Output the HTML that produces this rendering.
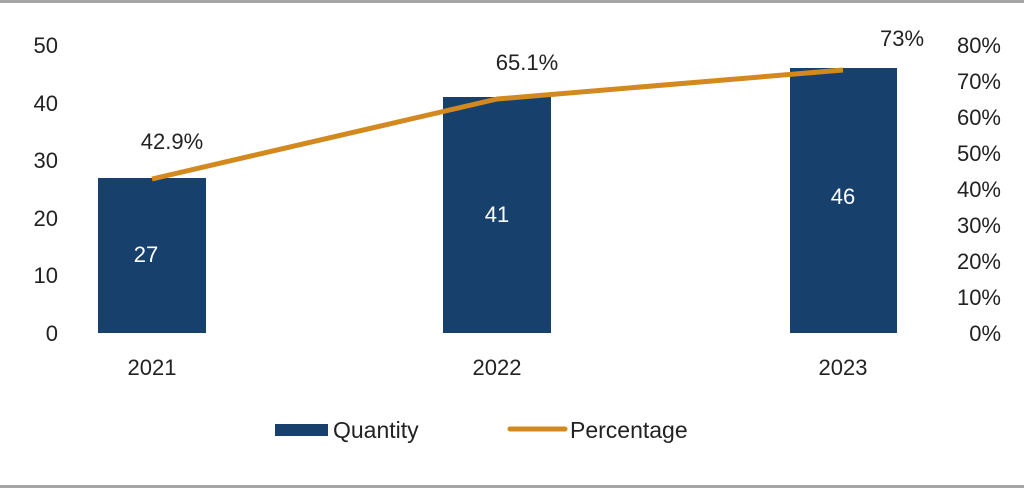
<!DOCTYPE html>
<html><head><style>
html,body{margin:0;padding:0;background:#fff;}
svg text{font-family:"Liberation Sans",sans-serif;fill:#222;}
</style></head><body>
<svg width="1024" height="488" xmlns="http://www.w3.org/2000/svg">
<rect x="0" y="0" width="1024" height="3" fill="#a6a6a6"/>
<rect x="0" y="485" width="1024" height="3" fill="#a6a6a6"/>
<g font-size="22" text-anchor="end">
<text x="58" y="341">0</text>
<text x="58" y="283">10</text>
<text x="58" y="226">20</text>
<text x="58" y="168">30</text>
<text x="58" y="111">40</text>
<text x="58" y="53">50</text>
</g>
<g font-size="22" text-anchor="end">
<text x="1001" y="341">0%</text>
<text x="1001" y="305">10%</text>
<text x="1001" y="269">20%</text>
<text x="1001" y="233">30%</text>
<text x="1001" y="197">40%</text>
<text x="1001" y="161">50%</text>
<text x="1001" y="125">60%</text>
<text x="1001" y="89">70%</text>
<text x="1001" y="53">80%</text>
</g>
<rect x="98" y="178" width="108" height="155" fill="#17406d"/>
<rect x="443" y="97" width="108" height="236" fill="#17406d"/>
<rect x="790" y="68" width="107" height="265" fill="#17406d"/>
<g font-size="22" text-anchor="middle">
<text x="146" y="262" style="fill:#fff">27</text>
<text x="497" y="222" style="fill:#fff">41</text>
<text x="843" y="204" style="fill:#fff">46</text>
</g>
<polyline points="152,179 497,99 843,70" fill="none" stroke="#d4891f" stroke-width="5" stroke-linejoin="round"/>
<g font-size="22" text-anchor="middle">
<text x="172" y="149">42.9%</text>
<text x="527" y="70">65.1%</text>
<text x="902" y="46">73%</text>
</g>
<g font-size="22" text-anchor="middle">
<text x="152" y="375">2021</text>
<text x="497" y="375">2022</text>
<text x="843" y="375">2023</text>
</g>
<rect x="275" y="424" width="53" height="12" fill="#17406d"/>
<line x1="510" y1="429" x2="565" y2="429" stroke="#d4891f" stroke-width="5" stroke-linecap="round"/>
<text x="333" y="438" font-size="23">Quantity</text>
<text x="570" y="438" font-size="23">Percentage</text>
</svg>
</body></html>
